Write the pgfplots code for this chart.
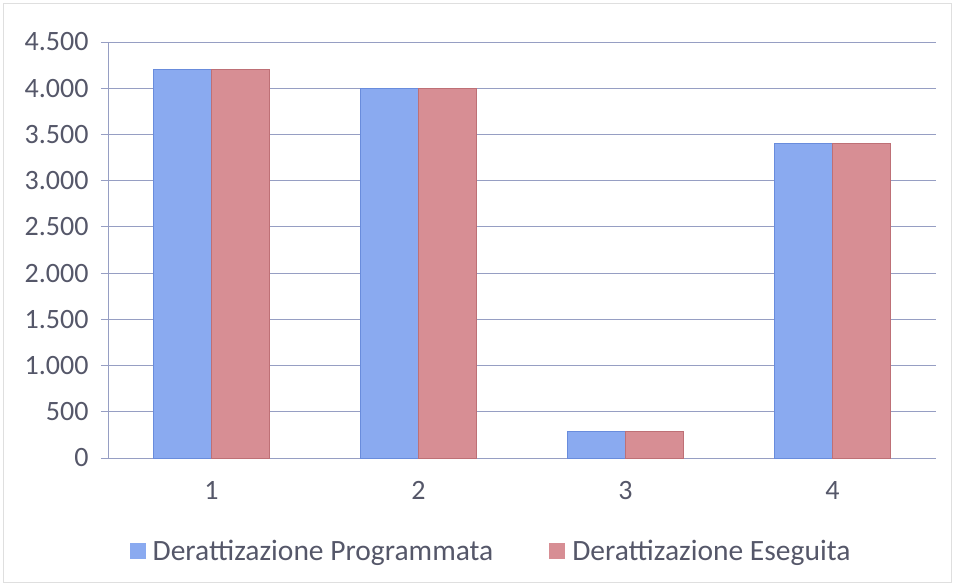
\documentclass[border=0pt]{standalone}
\usepackage{pgfplots}
\pgfplotsset{compat=1.18}
\usepackage{fontspec}
\setmainfont{Carlito}
\definecolor{txt}{RGB}{85,87,105}
\definecolor{gridc}{RGB}{150,158,195}
\definecolor{blueF}{RGB}{138,170,240}
\definecolor{blueE}{RGB}{105,140,220}
\definecolor{redF}{RGB}{215,142,148}
\definecolor{redE}{RGB}{190,112,118}
\begin{document}
\begin{tikzpicture}[x=1pt,y=1pt]
\path (-108,-128) rectangle (847,458);
\draw[gray!25,line width=1pt] (-104,-124) rectangle (843,454);
\begin{axis}[
  at={(0,0)}, anchor=south west,
  scale only axis, width=828pt, height=416pt,
  ybar=0pt, bar width=58pt,
  xmin=0.5, xmax=4.5, ymin=0, ymax=4500,
  ytick={0,500,...,4500},
  xtick={1,2,3,4}, major x tick style={draw=none},
  extra x ticks={0.5,1.5,2.5,3.5,4.5}, extra x tick labels={},
  extra x tick style={major tick length=7pt, tick align=outside, tick style={draw=gridc, line width=0.8pt}, grid=none},
  axis x line*=bottom, axis y line*=left,
  axis line style={draw=gridc, line width=0.8pt, -},
  ymajorgrids, grid style={draw=gridc, line width=0.8pt},
  y tick style={draw=gridc, line width=0.8pt}, major tick length=7pt, tick align=outside,
  every tick label/.append style={font=\fontsize{28}{32}\selectfont, text=txt},
  xticklabel style={yshift=-13pt},
  yticklabel style={xshift=-9pt},
  scaled y ticks=false,
  /pgf/number format/.cd, 1000 sep={.}, assume math mode=true, /pgfplots/.cd,
  legend style={at={(0.4626,-0.224)}, anchor=center, draw=none, fill=none,
    font=\fontsize{29.5}{33}\selectfont, text=txt, legend columns=2,
    /tikz/every even column/.append style={column sep=54pt}},
  legend image code/.code={\path[draw=none,fill=none] (0pt,0pt) -- (21pt,0pt); \fill[#1,draw=none] (0pt,-8pt) rectangle (16pt,8pt);},
]
\addplot[fill=blueF, draw=blueE, line width=0.8pt] coordinates {(1,4200) (2,4000) (3,285) (4,3400)};
\addplot[fill=redF, draw=redE, line width=0.8pt] coordinates {(1,4200) (2,4000) (3,285) (4,3400)};
\legend{Derattizazione Programmata, Derattizazione Eseguita}
\end{axis}
\end{tikzpicture}
\end{document}
